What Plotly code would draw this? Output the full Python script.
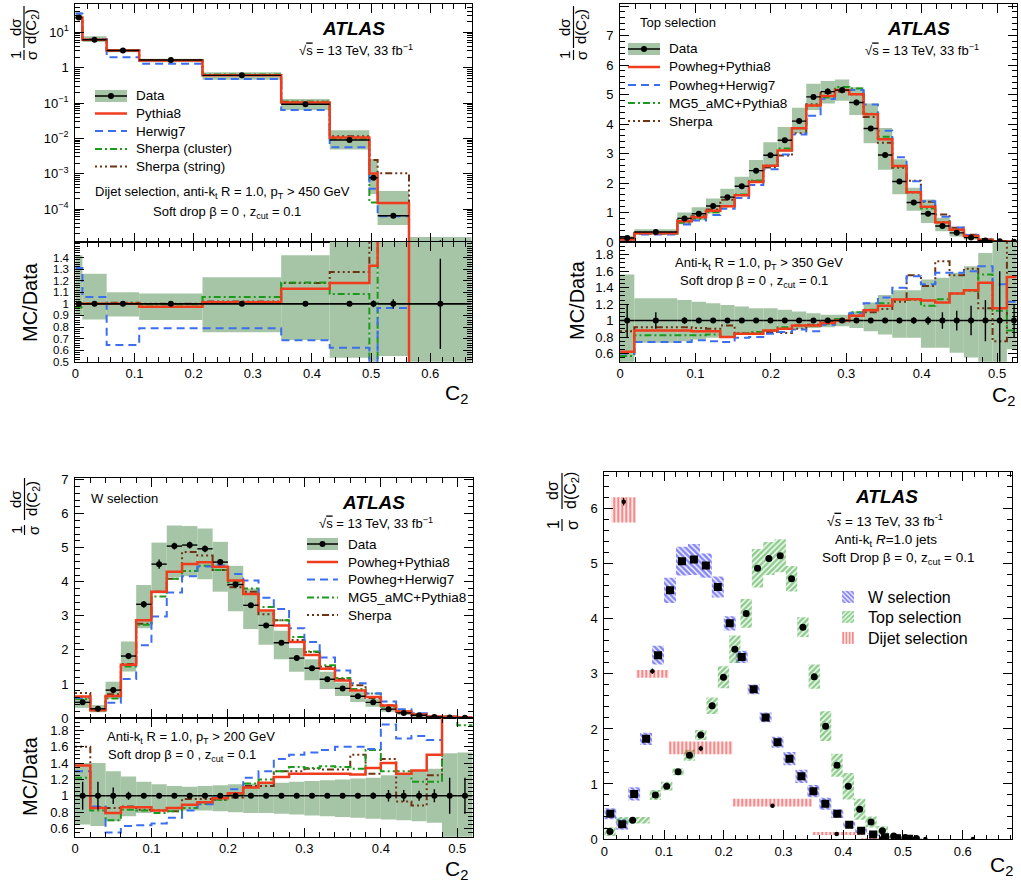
import numpy as np
import plotly.graph_objects as go

FIG_W, FIG_H = 1021, 885
FONT = "Liberation Sans"

# ======================= DATA =======================
# ---- Dijet selection (top-left panel) ----
dijet_edges = [0.0, 0.012, 0.053, 0.108, 0.215, 0.348, 0.43, 0.497, 0.511, 0.564, 0.67]
dijet_data = [26.0, 6.13, 3.05, 1.645, 0.605, 0.092, 0.0090, 0.00077, 0.000065, 0.0000095]
dijet_stat = [0.01, 0.01, 0.01, 0.01, 0.01, 0.01, 0.015, 0.03, 0.04, 0.39]
dijet_band_lo = [0.90, 0.865, 0.89, 0.86, 0.755, 0.687, 0.535, 0.35, 0.55, 0.05]
dijet_band_hi = [1.42, 1.26, 1.10, 1.09, 1.23, 1.42, 1.90, 3.40, 5.00, 1.70]
dijet_pythia8 = [1.00, 1.00, 1.00, 0.975, 1.015, 1.13, 1.18, 1.33, 2.30, 0.0]
dijet_herwig7 = [1.31, 1.06, 0.645, 0.79, 0.79, 0.685, 0.62, 0.49, 0.965, 0.0]
dijet_sherpa_cluster = [0.97, 1.00, 1.00, 0.995, 1.06, 1.185, 1.085, 0.20, 2.30, 0.0]
dijet_sherpa_string = [0.97, 1.00, 1.01, 1.00, 1.02, 1.18, 1.275, 3.20, 16.0, 0.0]

# ---- Top selection (top-right panel) ----
top_edges = [0.0, 0.019, 0.076, 0.095, 0.114, 0.133, 0.152, 0.171, 0.190, 0.209, 0.228,
             0.247, 0.266, 0.285, 0.304, 0.323, 0.342, 0.361, 0.380, 0.399, 0.418, 0.437,
             0.456, 0.475, 0.494, 0.513, 0.532]
top_data = [0.135, 0.34, 0.80, 0.96, 1.22, 1.52, 1.89, 2.42, 2.94, 3.45, 4.10, 4.92, 5.10,
            5.15, 4.73, 3.85, 2.95, 2.05, 1.34, 0.96, 0.54, 0.31, 0.15, 0.055, 0.025, 0.010]
top_stat = [0.20, 0.10, 0.04, 0.03, 0.03, 0.02, 0.02, 0.02, 0.02, 0.02, 0.02, 0.02, 0.02,
            0.02, 0.02, 0.02, 0.02, 0.03, 0.04, 0.05, 0.10, 0.12, 0.18, 0.25, 0.60, 0.20]
top_band_lo = [0.45, 0.73, 0.75, 0.77, 0.79, 0.81, 0.83, 0.85, 0.87, 0.89, 0.90, 0.91, 0.92,
               0.93, 0.91, 0.87, 0.83, 0.79, 0.79, 0.67, 0.67, 0.61, 0.55, 0.45, 0.30, 0.65]
top_band_hi = [1.56, 1.27, 1.25, 1.23, 1.21, 1.19, 1.17, 1.15, 1.15, 1.13, 1.11, 1.09, 1.07,
               1.07, 1.11, 1.22, 1.31, 1.37, 1.37, 1.50, 1.52, 1.58, 1.66, 1.82, 2.20, 2.20]
top_powheg_pythia8 = [0.62, 0.88, 0.88, 0.87, 0.87, 0.80, 0.84, 0.84, 0.88, 0.90, 0.94, 0.94, 0.97,
                      1.00, 1.06, 1.125, 1.18, 1.255, 1.26, 1.245, 1.22, 1.33, 1.37, 1.46, 1.15, 1.53]
top_powheg_herwig7 = [0.60, 0.74, 0.74, 0.76, 0.75, 0.74, 0.79, 0.80, 0.84, 0.86, 0.89, 0.87, 0.95,
                      1.00, 1.09, 1.21, 1.28, 1.40, 1.54, 1.44, 1.58, 1.58, 1.60, 1.66, 1.44, 1.23]
top_mg5_pythia8 = [0.57, 0.82, 0.82, 0.82, 0.83, 0.80, 0.85, 0.86, 0.88, 0.92, 0.94, 0.94, 0.96,
                   1.02, 1.10, 1.13, 1.21, 1.25, 1.25, 1.18, 1.26, 1.33, 1.36, 1.56, 1.12, 0.88]
top_sherpa = [0.87, 0.92, 0.92, 0.91, 0.90, 0.94, 0.84, 0.85, 0.86, 0.85, 0.90, 0.95, 0.99,
              0.99, 1.06, 1.10, 1.14, 1.23, 1.55, 1.42, 1.72, 1.55, 1.63, 1.15, 0.75, 2.20]

# ---- W selection (bottom-left panel) ----
w_edges = [0.00, 0.02, 0.04, 0.06, 0.08, 0.10, 0.12, 0.14, 0.16, 0.18, 0.20, 0.22, 0.24, 0.26,
           0.28, 0.30, 0.32, 0.34, 0.36, 0.38, 0.40, 0.42, 0.44, 0.46, 0.48, 0.50, 0.52]
w_data = [0.46, 0.27, 0.82, 1.82, 3.34, 4.52, 5.05, 5.08, 4.97, 4.58, 3.92, 3.31, 2.72,
          2.21, 1.76, 1.46, 1.14, 0.87, 0.64, 0.46, 0.26, 0.15, 0.08, 0.03, 0.012, 0.005]
w_stat = [0.17, 0.17, 0.10, 0.05, 0.03, 0.03, 0.02, 0.02, 0.02, 0.02, 0.02, 0.02, 0.02,
          0.02, 0.02, 0.02, 0.02, 0.03, 0.03, 0.04, 0.07, 0.07, 0.06, 0.08, 0.22, 0.22]
w_band_lo = [0.65, 0.63, 0.69, 0.75, 0.79, 0.81, 0.82, 0.82, 0.82, 0.81, 0.80, 0.79, 0.79,
             0.78, 0.77, 0.76, 0.75, 0.74, 0.73, 0.72, 0.71, 0.70, 0.69, 0.67, 0.45, 0.45]
w_band_hi = [1.40, 1.40, 1.30, 1.235, 1.17, 1.14, 1.12, 1.11, 1.12, 1.13, 1.14, 1.15, 1.15,
             1.16, 1.17, 1.18, 1.19, 1.20, 1.21, 1.22, 1.25, 1.27, 1.30, 1.33, 1.52, 1.53]
w_powheg_pythia8 = [1.37, 0.85, 0.79, 0.86, 0.86, 0.82, 0.85, 0.89, 0.92, 0.97, 1.03, 1.10, 1.16,
                    1.23, 1.27, 1.27, 1.27, 1.27, 1.26, 1.34, 1.40, 1.27, 1.31, 1.50, 3.0, 3.0]
w_powheg_herwig7 = [1.30, 0.87, 0.55, 0.63, 0.64, 0.66, 0.73, 0.82, 0.895, 0.98, 1.08, 1.22, 1.30,
                    1.45, 1.50, 1.53, 1.56, 1.60, 1.60, 1.57, 1.87, 1.70, 1.73, 1.68, 2.5, 2.5]
w_mg5_pythia8 = [1.22, 0.82, 0.70, 0.83, 0.82, 0.79, 0.81, 0.85, 0.90, 0.95, 1.02, 1.15, 1.20,
                 1.30, 1.35, 1.34, 1.36, 1.35, 1.33, 1.56, 1.30, 1.30, 1.17, 1.17, 3.0, 1.86]
w_sherpa = [1.60, 0.86, 0.85, 0.87, 0.83, 0.82, 0.81, 0.96, 0.96, 0.95, 0.98, 1.12, 1.12,
            1.30, 1.30, 1.33, 1.32, 1.32, 1.50, 1.27, 1.45, 0.93, 0.88, 1.25, 3.0, 2.0]

# ---- Summary panel (bottom-right): total uncertainty boxes ----
br_w_err = [0.10, 0.10, 0.12, 0.11, 0.17, 0.23, 0.26, 0.28, 0.22, 0.19, 0.13, 0.11, 0.09,
            0.09, 0.10, 0.12, 0.12, 0.11, 0.11, 0.08, 0.06, 0.04, 0.03, 0.02, 0.01, 0.01]
br_top_err = [0.08, 0.06, 0.09, 0.08, 0.06, 0.10, 0.09, 0.15, 0.20, 0.25, 0.26, 0.35, 0.30,
              0.30, 0.23, 0.18, 0.22, 0.27, 0.21, 0.24, 0.19, 0.10, 0.08, 0.04, 0.02, 0.01]
br_dijet_lo = [23.4, 5.75, 2.93, 1.54, 0.59, 0.073, 0.005, 0.0003, 0.00003, 0.0]
br_dijet_hi = [36.9, 6.21, 3.07, 1.77, 0.73, 0.128, 0.017, 0.0026, 0.00033, 0.000016]
br_dijet_err = [0.5, 0.07, 0.05, 0.05, 0.03, 0.02, 0.015, 0.015, 0.015, 0.02]

log_major_vals = [1e-4, 1e-3, 1e-2, 1e-1, 1, 10]
log_major_text = ["10<sup>−4</sup>", "10<sup>−3</sup>", "10<sup>−2</sup>", "10<sup>−1</sup>", "1", "10<sup>1</sup>"]

# ======================= STYLES =======================
BAND = "rgb(166,197,166)"
RED = "#f03c1e"
BLUE = "#3c6ef0"
GREEN = "#1c9a1c"
BROWN = "#6e3214"
ST_RED = dict(color=RED, dash="solid", width=2.5)
ST_BLUE = dict(color=BLUE, dash="8px,5px", width=2)
ST_GREEN = dict(color=GREEN, dash="7px,3px,2px,3px", width=2)
ST_BROWN = dict(color=BROWN, dash="2px,3px,2px,3px,2px,3px,7px,3px", width=2)


def px(x):
    return x / FIG_W


def py(y):
    return 1 - y / FIG_H


def dx(a, b):
    return [px(a), px(b)]


def dy(top, bot):
    return [py(bot), py(top)]


fig = go.Figure()
annotations = []
shapes = []


def centers_widths(edges):
    e = np.asarray(edges, float)
    return (e[:-1] + e[1:]) / 2, np.diff(e)


def add_distribution(edges, data, stat, band_lo, band_hi, mcs, up, rat, log=False):
    c, w = centers_widths(edges)
    data = np.asarray(data, float)
    lo = np.asarray(band_lo, float)
    hi = np.asarray(band_hi, float)
    stat = np.asarray(stat, float)
    common = dict(showlegend=False, hoverinfo="skip")
    fig.add_trace(go.Bar(x=c, y=data * (hi - lo), base=data * lo, width=w,
                         marker=dict(color=BAND, line=dict(width=0)),
                         xaxis=up[0], yaxis=up[1], **common))
    fig.add_trace(go.Bar(x=c, y=hi - lo, base=lo, width=w,
                         marker=dict(color=BAND, line=dict(width=0)),
                         xaxis=rat[0], yaxis=rat[1], **common))
    for ratio, style in mcs:
        r = np.asarray(ratio, float)
        yu = data * r
        if log:
            yu = np.maximum(yu, 1e-9)
        fig.add_trace(go.Scatter(x=list(edges), y=list(yu) + [yu[-1]], mode="lines",
                                 line=dict(shape="hv", **style), xaxis=up[0], yaxis=up[1], **common))
        fig.add_trace(go.Scatter(x=list(edges), y=list(r) + [r[-1]], mode="lines",
                                 line=dict(shape="hv", **style), xaxis=rat[0], yaxis=rat[1], **common))
    fig.add_trace(go.Scatter(x=c, y=data, mode="markers", marker=dict(color="black", size=6),
                             error_x=dict(type="data", array=w / 2, color="black", thickness=1.4, width=0),
                             error_y=dict(type="data", array=data * stat, color="black", thickness=1.4, width=0),
                             xaxis=up[0], yaxis=up[1], **common))
    fig.add_trace(go.Scatter(x=c, y=data / data, mode="markers", marker=dict(color="black", size=6),
                             error_x=dict(type="data", array=w / 2, color="black", thickness=1.6, width=0),
                             error_y=dict(type="data", array=stat, color="black", thickness=1.4, width=0),
                             xaxis=rat[0], yaxis=rat[1], **common))


# ---- the three distributions ----
add_distribution(dijet_edges, dijet_data, dijet_stat, dijet_band_lo, dijet_band_hi,
                 [(dijet_sherpa_string, ST_BROWN), (dijet_sherpa_cluster, ST_GREEN),
                  (dijet_herwig7, ST_BLUE), (dijet_pythia8, ST_RED)],
                 ("x", "y"), ("x2", "y2"), log=True)
add_distribution(top_edges, top_data, top_stat, top_band_lo, top_band_hi,
                 [(top_sherpa, ST_BROWN), (top_mg5_pythia8, ST_GREEN),
                  (top_powheg_herwig7, ST_BLUE), (top_powheg_pythia8, ST_RED)],
                 ("x3", "y3"), ("x4", "y4"))
add_distribution(w_edges, w_data, w_stat, w_band_lo, w_band_hi,
                 [(w_sherpa, ST_BROWN), (w_mg5_pythia8, ST_GREEN),
                  (w_powheg_herwig7, ST_BLUE), (w_powheg_pythia8, ST_RED)],
                 ("x5", "y5"), ("x6", "y6"))

# ---- summary panel (bottom-right) ----
wc, ww = centers_widths(w_edges)
tc, tw = centers_widths(top_edges)
dc, dw = centers_widths(dijet_edges)
wd = np.asarray(w_data)
td = np.asarray(top_data)
we = np.asarray(br_w_err)
te = np.asarray(br_top_err)
dlo = np.asarray(br_dijet_lo)
dhi = np.asarray(br_dijet_hi)


def hatch(shape, col, size=4, sol=0.65):
    return dict(color="rgba(0,0,0,0)", line=dict(width=0),
                pattern=dict(shape=shape, fgcolor=col, bgcolor="rgba(0,0,0,0)", size=size, solidity=sol))


fig.add_trace(go.Bar(x=wc, y=2 * we, base=wd - we, width=ww, marker=hatch("\\", "#1010e8"),
                     name="W selection", legend="legend", showlegend=True, hoverinfo="skip",
                     xaxis="x7", yaxis="y7"))
fig.add_trace(go.Bar(x=tc, y=2 * te, base=td - te, width=tw, marker=hatch("/", "#1f9c1f"),
                     name="Top selection", legend="legend2", showlegend=True, hoverinfo="skip",
                     xaxis="x7", yaxis="y7"))
fig.add_trace(go.Bar(x=dc, y=dhi - dlo, base=dlo, width=dw, marker=hatch("|", "#ee1111", 4, 0.6),
                     name="Dijet selection", legend="legend3", showlegend=True, hoverinfo="skip",
                     xaxis="x7", yaxis="y7"))
fig.add_trace(go.Scatter(x=wc, y=wd, mode="markers", marker=dict(symbol="square", color="black", size=8),
                         showlegend=False, hoverinfo="skip", xaxis="x7", yaxis="y7"))
fig.add_trace(go.Scatter(x=tc, y=td, mode="markers", marker=dict(symbol="circle", color="black", size=7),
                         showlegend=False, hoverinfo="skip", xaxis="x7", yaxis="y7"))
fig.add_trace(go.Scatter(x=dc, y=dijet_data, mode="markers", marker=dict(symbol="circle", color="black", size=4.5),
                         error_y=dict(type="data", array=br_dijet_err, color="black", thickness=1.2, width=0),
                         showlegend=False, hoverinfo="skip", xaxis="x7", yaxis="y7"))


# ======================= AXES =======================
def base_axis(**kw):
    d = dict(showline=True, linecolor="black", linewidth=1, mirror="allticks", ticks="inside",
             ticklen=9, tickwidth=1, tickcolor="black", showgrid=False, zeroline=False,
             tickfont=dict(size=13, color="black", family=FONT), automargin=False, fixedrange=True)
    d.update(kw)
    return d


def minor(dt, t0=0):
    return dict(ticks="inside", ticklen=4.5, tickwidth=1, tickcolor="black", dtick=dt, tick0=t0,
                showgrid=False)


log_minor_vals = [m * 10.0 ** k for k in range(-6, 2) for m in range(2, 10)]

TLX = dx(75.3, 471.7)
TRX = dx(620, 1016.7)
BLX = dx(75, 472.6)
BRX = dx(604.3, 1011.7)

fig.update_layout(
    xaxis=base_axis(domain=TLX, range=[0, 0.67], tick0=0, dtick=0.1, minor=minor(0.02),
                    showticklabels=False, anchor="y"),
    yaxis=base_axis(domain=dy(4, 242), type="log", range=[-4.93, 1.80], tickmode="array",
                    tickvals=log_major_vals, ticktext=log_major_text, ticklabelstandoff=3,
                    minor=dict(ticks="inside", ticklen=4.5, tickcolor="black", tickmode="array",
                               tickvals=log_minor_vals, showgrid=False), anchor="x"),
    xaxis2=base_axis(domain=TLX, range=[0, 0.67], tick0=0, dtick=0.1, minor=minor(0.02), anchor="y2"),
    yaxis2=base_axis(domain=dy(242, 361.7), range=[0.5, 1.535], tickmode="array",
                     tickvals=[0.5, 0.6, 0.7, 0.8, 0.9, 1.0, 1.1, 1.2, 1.3, 1.4], ticklabelstandoff=3,
                     tickfont=dict(size=11.5, color="black", family=FONT),
                     minor=minor(0.02, 0.5), anchor="x2"),
    xaxis3=base_axis(domain=TRX, range=[0, 0.526], tick0=0, dtick=0.1, minor=minor(0.02),
                     showticklabels=False, anchor="y3"),
    yaxis3=base_axis(domain=dy(4, 242), range=[0, 8.07], tick0=0, dtick=1, minor=minor(0.2),
                     ticklabelstandoff=3, anchor="x3"),
    xaxis4=base_axis(domain=TRX, range=[0, 0.526], tick0=0, dtick=0.1, minor=minor(0.02), anchor="y4"),
    yaxis4=base_axis(domain=dy(242, 361.7), range=[0.5, 1.955], tickmode="array",
                     tickvals=[0.6, 0.8, 1.0, 1.2, 1.4, 1.6, 1.8], ticklabelstandoff=3,
                     minor=minor(0.05, 0.5), anchor="x4"),
    xaxis5=base_axis(domain=BLX, range=[0, 0.52], tick0=0, dtick=0.1, minor=minor(0.02),
                     showticklabels=False, anchor="y5"),
    yaxis5=base_axis(domain=dy(478, 718), range=[0, 7.05], tick0=0, dtick=1, minor=minor(0.2),
                     ticklabelstandoff=3, anchor="x5"),
    xaxis6=base_axis(domain=BLX, range=[0, 0.52], tick0=0, dtick=0.1, minor=minor(0.02), anchor="y6"),
    yaxis6=base_axis(domain=dy(718, 836.7), range=[0.5, 1.95], tickmode="array",
                     tickvals=[0.6, 0.8, 1.0, 1.2, 1.4, 1.6, 1.8], ticklabelstandoff=3,
                     minor=minor(0.05, 0.5), anchor="x6"),
    xaxis7=base_axis(domain=BRX, range=[0, 0.682], tick0=0, dtick=0.1, minor=minor(0.02), anchor="y7"),
    yaxis7=base_axis(domain=dy(472, 839), range=[0, 6.67], tick0=0, dtick=1, minor=minor(0.2),
                     ticklabelstandoff=3, anchor="x7"),
)


# ======================= TEXT & LEGENDS =======================
def ann(x, y, text, size=13, xanchor="center", yanchor="middle", angle=0):
    annotations.append(dict(x=px(x), y=py(y), xref="paper", yref="paper", text=text, showarrow=False,
                            font=dict(size=size, color="black", family=FONT), xanchor=xanchor,
                            yanchor=yanchor, textangle=angle, borderpad=0))


def vline(x, y0, y1, width=1.2):
    shapes.append(dict(type="line", xref="paper", yref="paper", x0=px(x), x1=px(x), y0=py(y0), y1=py(y1),
                       line=dict(color="black", width=width)))


def frac_label(xn, xd, xb, yc1, half1, yc2, half2, size):
    ann(xn, yc1, "dσ", size, angle=-90)
    ann(xd, yc1, "d(C<sub>2</sub>)", size, angle=-90)
    vline(xb, yc1 - half1, yc1 + half1)
    ann(xn, yc2, "1", size, angle=-90)
    ann(xd, yc2, "σ", size, angle=-90)
    vline(xb, yc2 - half2, yc2 + half2)


def manual_legend(x0, x1, xt, ys, labels, styles, size=13.5):
    y = ys[0]
    shapes.append(dict(type="rect", xref="paper", yref="paper", x0=px(x0), x1=px(x1), y0=py(y + 6),
                       y1=py(y - 6), fillcolor=BAND, line=dict(width=0)))
    shapes.append(dict(type="line", xref="paper", yref="paper", x0=px(x0), x1=px(x1), y0=py(y), y1=py(y),
                       line=dict(color="black", width=1.5)))
    xm = (x0 + x1) / 2
    shapes.append(dict(type="circle", xref="paper", yref="paper", x0=px(xm - 3), x1=px(xm + 3),
                       y0=py(y + 3), y1=py(y - 3), fillcolor="black", line=dict(width=0)))
    for yy, st in zip(ys[1:], styles):
        shapes.append(dict(type="line", xref="paper", yref="paper", x0=px(x0), x1=px(x1), y0=py(yy),
                           y1=py(yy), line=dict(color=st["color"], width=st["width"], dash=st["dash"])))
    for yy, lab in zip(ys, labels):
        ann(xt, yy, lab, size, xanchor="left")


SQRT_S = "√<span style='text-decoration:overline'>s</span> = 13 TeV, 33 fb<sup>−1</sup>"
ATLAS = "<b><i>ATLAS</i></b>"
C2 = "C<sub>2</sub>"
SOFTDROP = "Soft drop β = 0 , z<sub>cut</sub> = 0.1"

# top-left
ann(353, 29, ATLAS, 19)
ann(356, 50, SQRT_S, 13)
ann(222, 193, "Dijet selection, anti-k<sub>t</sub> R = 1.0, p<sub>T</sub> &gt; 450 GeV", 13)
ann(227, 212, SOFTDROP, 13)
manual_legend(95, 127, 135, [96, 113.5, 131, 149, 166.5],
              ["Data", "Pythia8", "Herwig7", "Sherpa (cluster)", "Sherpa (string)"],
              [ST_RED, ST_BLUE, ST_GREEN, ST_BROWN])
ann(30, 302, "MC/Data", 20, angle=-90)
ann(456, 394, C2, 21)
frac_label(16, 32, 24, 27, 21, 55, 5, 15)

# top-right
ann(639, 23, "Top selection", 13, xanchor="left")
ann(918, 29, ATLAS, 19)
ann(922, 50, SQRT_S, 13)
manual_legend(628, 660, 668, [49, 67, 85, 103, 121],
              ["Data", "Powheg+Pythia8", "Powheg+Herwig7", "MG5_aMC+Pythia8", "Sherpa"],
              [ST_RED, ST_BLUE, ST_GREEN, ST_BROWN])
ann(759, 263, "Anti-k<sub>t</sub> R = 1.0, p<sub>T</sub> &gt; 350 GeV", 13)
ann(754, 281, SOFTDROP, 13)
ann(577, 300, "MC/Data", 20, angle=-90)
ann(1003, 396, C2, 21)
frac_label(565, 582, 573.5, 27, 21, 55, 5, 15)

# bottom-left
ann(90, 498, "W selection", 13, xanchor="left")
ann(373, 503, ATLAS, 19)
ann(376, 523, SQRT_S, 13)
manual_legend(307, 338, 347, [544, 562, 579.5, 597.5, 615],
              ["Data", "Powheg+Pythia8", "Powheg+Herwig7", "MG5_aMC+Pythia8", "Sherpa"],
              [ST_RED, ST_BLUE, ST_GREEN, ST_BROWN])
ann(106, 737, "Anti-k<sub>t</sub> R = 1.0, p<sub>T</sub> &gt; 200 GeV", 13, xanchor="left")
ann(107, 755, SOFTDROP, 13, xanchor="left")
ann(30, 776, "MC/Data", 20, angle=-90)
ann(456, 870, C2, 21)
frac_label(16, 33, 24.5, 499, 21, 530, 5, 15)

# bottom-right
ann(886, 497, ATLAS, 19)
ann(885, 520, "√<span style='text-decoration:overline'><i>s</i></span> = 13 TeV, 33 fb<sup>-1</sup>", 13.5)
ann(886, 540, "Anti-k<sub>t</sub> <i>R</i>=1.0 jets", 13.5)
ann(898, 558, "Soft Drop β = 0, z<sub>cut</sub> = 0.1", 13.5)
ann(1001, 866, C2, 21)
frac_label(553, 572, 562, 491, 18, 525, 6, 16)


def leg(y):
    return dict(x=px(828), y=py(y), xanchor="left", yanchor="middle", bgcolor="rgba(0,0,0,0)",
                borderwidth=0, font=dict(size=16, color="black", family=FONT), itemwidth=30)


fig.update_layout(
    width=FIG_W, height=FIG_H, margin=dict(l=0, r=0, t=0, b=0),
    paper_bgcolor="white", plot_bgcolor="white", barmode="overlay", hovermode=False,
    font=dict(family=FONT, color="black"),
    annotations=annotations, shapes=shapes,
    legend=leg(597), legend2=leg(617), legend3=leg(638),
)

fig.write_html("out.html", config={"displayModeBar": False},
               post_script="document.body.style.margin='0px';")
